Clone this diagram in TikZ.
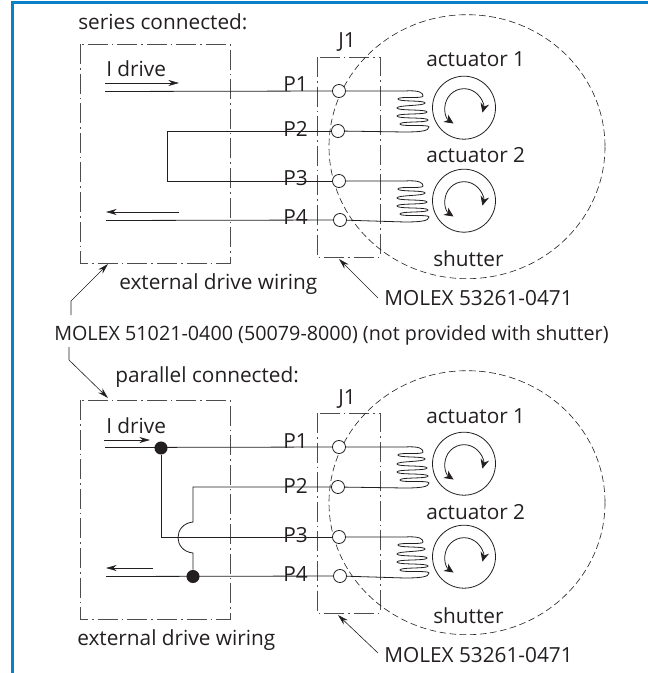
\documentclass[tikz,border=0pt]{standalone}
\usepackage{fontspec}
\setmainfont{Open Sans}
\usetikzlibrary{arrows.meta}
\definecolor{framecol}{HTML}{0A80C6}
\definecolor{inkcol}{HTML}{231F20}
\tikzset{
lbl/.style={anchor=base west,inner sep=0pt,text=inkcol,font=\fontsize{15.6}{18}\selectfont},
wire/.style={draw=inkcol,line width=0.6pt},
dashdot/.style={draw=inkcol!80,line width=0.5pt,dash pattern=on 15pt off 3pt on 1.2pt off 3pt},
lead/.style={draw=inkcol,line width=0.45pt,-{Stealth[length=8pt,width=4.5pt]}},
pin/.style={circle,draw=inkcol,fill=white,line width=0.6pt,minimum size=9.8pt,inner sep=0pt},
joint/.style={circle,fill=inkcol,minimum size=9.8pt,inner sep=0pt},
turn/.style={draw=inkcol,line width=0.6pt,{Stealth[length=7pt,width=6.5pt]}-{Stealth[length=7pt,width=6.5pt]}}
}
\begin{document}
\begin{tikzpicture}[x=0.75pt,y=-0.75pt]
\useasboundingbox (0,0) rectangle (648,673);
\draw[framecol,line width=2.3pt] (12.5,673)--(12.5,2.5)--(648,2.5);
\foreach \s/\dy in {a/0,b/356}
{
\begin{scope}[shift={(0,\dy)}]
\draw[dashdot] (80,44) rectangle (230,263);
\draw[dashdot] (317,57) rectangle (380,257);
\draw[draw=inkcol,line width=0.45pt,dash pattern=on 5pt off 2.6pt] (467,146.7) ellipse (138 and 132);
\foreach \c/\yc in {1/107.7,2/200.7}
{
\draw[wire] (464,\yc) circle (31.5);
\draw[turn] (453.5,\yc+15.8) arc[start angle=123.7,end angle=375,radius=19];
}
\node[pin] (\s1) at (339,91) {};
\node[pin] (\s2) at (338,131) {};
\node[pin] (\s3) at (339,181) {};
\node[pin] (\s4) at (340,220) {};
\foreach \u/\v/\yt in {1/2/0,3/4/90}
{
\draw[wire] (\s\u) -- (405,91+\yt)
.. controls (420,90+\yt) and (423,93+\yt) .. (423,96+\yt)
.. controls (423,99+\yt) and (398,96+\yt) .. (398,99+\yt)
.. controls (398,102+\yt) and (425,100+\yt) .. (425,103+\yt)
.. controls (425,106+\yt) and (397,105+\yt) .. (397,108+\yt)
.. controls (397,111+\yt) and (427,109+\yt) .. (427,112+\yt)
.. controls (427,115+\yt) and (397,113+\yt) .. (397,116+\yt)
.. controls (397,119+\yt) and (428,117+\yt) .. (428,120+\yt)
.. controls (428,123+\yt) and (400,121+\yt) .. (400,124+\yt)
.. controls (400,127+\yt) and (429,124+\yt) .. (429,127+\yt)
.. controls (429,131+\yt) and (420,132+\yt) .. (405,132+\yt) -- (\s\v);
}
\node[lbl] (\s j) at (338,48) {J1};
\node[lbl] (\s act1) at (426,67) {actuator 1};
\node[lbl] (\s act2) at (426,163) {actuator 2};
\node[lbl] (\s sh) at (433,267) {shutter};
\node[lbl] (\s drv) at (106,77) {I drive};
\node[lbl] (\s p1) at (283,92) {P1};
\node[lbl] (\s p2) at (283,137) {P2};
\node[lbl] (\s p3) at (283,186) {P3};
\node[lbl] (\s p4) at (283,225) {P4};
\coordinate (\s in) at (105,91.5);
\coordinate (\s out) at (106,220.5);
\end{scope}
}
\node[lbl] (ser) at (78,30) {series connected:};
\node[lbl] (par) at (115,382) {parallel connected:};
\node[lbl] (exta) at (119,289) {external drive wiring};
\node[lbl] (extb) at (77,645) {external drive wiring};
\node[lbl] (mola) at (384,305) {MOLEX 53261-0471};
\node[lbl] (molb) at (384,662) {MOLEX 53261-0471};
\node[lbl,font=\fontsize{14.8}{18}\selectfont] (molc) at (54,340) {MOLEX 51021-0400 (50079-8000) (not provided with shutter)};
\draw[wire] (ain) -- (a1);
\draw[wire] (aout) -- (a4);
\draw[wire] (a2) -- (167,131) -- (167,181) -- (a3);
\draw[lead] (105,83) -- (179,83);
\draw[lead] (179,212) -- (106,212);
\node[joint] (ja) at (161,448) {};
\node[joint] (jb) at (193,576.5) {};
\draw[wire] (bin) -- (b1);
\draw[wire] (bout) -- (b4);
\draw[wire] (ja) -- (161,537) -- (b3);
\draw[wire] (b2) -- (193,487) -- (193,522) .. controls (173,524) and (173,551) .. (193,553) -- (jb);
\draw[lead] (104,440) -- (150,440);
\draw[lead] (153,568) -- (106,568);
\draw[lead] (71,315) -- (71,301) -- (108,264);
\draw[lead] (69,347) -- (69,360) -- (108,398);
\draw[lead] (378,298) -- (339,259);
\draw[lead] (378,653) -- (338,615);
\end{tikzpicture}
\end{document}
